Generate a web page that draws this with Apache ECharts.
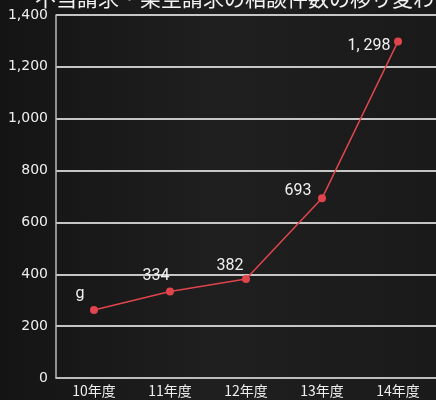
<!DOCTYPE html>
<html><head><meta charset="utf-8">
<script src="https://cdn.jsdelivr.net/npm/echarts@6/dist/echarts.min.js"></script>
<style>html,body{margin:0;padding:0;background:#1b1b1b}#c{width:436px;height:400px}</style>
</head><body><div id="c"></div>
<script>
const titleText = "不当請求・架空請求の相談件数の移り変わり";
const categories = ["10年度","11年度","12年度","13年度","14年度"];
const values = [262, 334, 382, 693, 1298];
const pointLabels = ["g","334","382","693","1, 298"];
const yTicks = [0,200,400,600,800,1000,1200,1400];

const labelOffsets = [[-14,1],[-14,2],[-16,4],[-24,10],[-29,22]];
const chart = echarts.init(document.getElementById('c'));
chart.setOption({
  backgroundColor: {
    type: 'linear', x: 0, y: 0, x2: 1, y2: 0,
    colorStops: [{offset:0,color:'#141414'},{offset:0.5,color:'#1f1f1f'},{offset:1,color:'#1a1a1a'}]
  },
  title: {
    text: titleText, left: 30, top: -17,
    textStyle: {color:'#f2f2f2', fontSize: 21, fontWeight: 'normal', fontFamily: 'Noto Sans CJK JP'}
  },
  grid: {left: 56, right: -2, top: 15, bottom: 22, containLabel: false},
  xAxis: {
    type: 'category', data: categories, boundaryGap: true,
    axisLine: {lineStyle: {color:'#bbbbbb', width: 1.5}},
    axisTick: {inside: true, length: 4, lineStyle: {color:'#bbbbbb'}},
    axisLabel: {color:'#eeeeee', fontSize: 14, margin: 6, fontFamily: 'Noto Sans CJK JP'}
  },
  yAxis: {
    type: 'value', min: 0, max: 1400, interval: 200,
    axisLine: {show: true, lineStyle: {color:'#bbbbbb', width: 1.5}},
    axisTick: {show: false},
    axisLabel: {color:'#eeeeee', fontSize: 14, margin: 8, fontFamily: 'DejaVu Sans',
      formatter: v => v.toLocaleString('en-US')},
    splitLine: {lineStyle: {color:'#ffffff', width: 1.5}}
  },
  series: [{
    type: 'line',
    data: values.map((v,i)=>({value: v, label: {offset: labelOffsets[i]}})),
    color: '#e0444c',
    lineStyle: {color:'#e0444c', width: 1.5},
    symbol: 'circle', symbolSize: 8,
    itemStyle: {color:'#e0444c'},
    label: {show: true, position: 'top', color:'#f0f0f0', fontSize: 16, fontFamily: 'Roboto',
      formatter: p => pointLabels[p.dataIndex]}
  }]
});
</script></body></html>
